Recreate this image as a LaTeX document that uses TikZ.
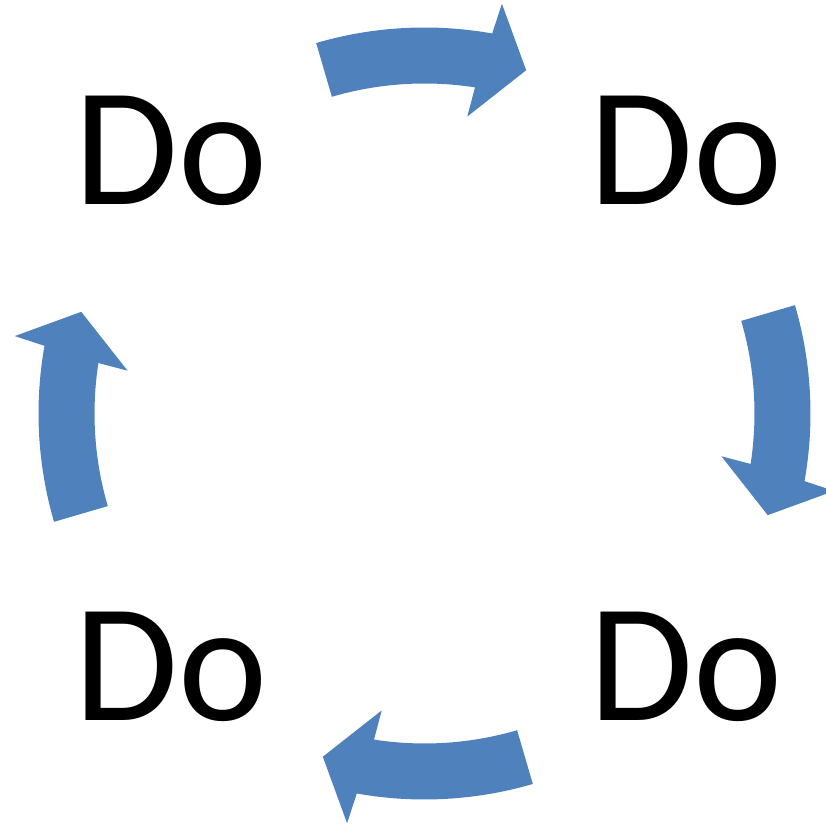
\documentclass[tikz,border=0pt]{standalone}
\usepackage{fontspec}
\setmainfont{Carlito}
\usetikzlibrary{calc}
\definecolor{cycleblue}{HTML}{4F81BD}

\begin{document}
\begin{tikzpicture}[
    x=0.5pt, y=0.5pt,
    dolabel/.style={font=\fontsize{84.5}{84.5}\selectfont, inner sep=0pt, text=black},
    cyclearrow/.style={fill=cycleblue, draw=none},
]

% ── Layout ──
\def\cx{424.5}  % cycle centre x
\def\cy{410.5}  % cycle centre y
\def\Ro{386}    % outer radius of band
\def\Ri{330}    % inner radius of band

\useasboundingbox (0,0) rectangle (826,824);
\coordinate (C) at (\cx,\cy);

% ── Helper: one curved block arrow, clockwise ──
% Args: rotation of the arrow about the centre
\newcommand{\drawcyclearrow}[1]{
    \begin{scope}[shift=(C), rotate=#1]
        \fill[cyclearrow] (106.3:\Ro) arc[start angle=106.3, end angle=79.9, radius=\Ro]
            -- (79.3:417) -- (73.5:358) -- (81.8:300)
            -- (81.2:\Ri) arc[start angle=81.2, end angle=106.3, radius=\Ri] -- cycle;
    \end{scope}
}

% ── Arrows ──
\foreach \rot in {0,-90,-180,-270} {
    \drawcyclearrow{\rot}
}

% ── Labels ──
\node[dolabel] (do-tl) at (171,673) {Do};
\node[dolabel] (do-tr) at (686,673) {Do};
\node[dolabel] (do-bl) at (171,157) {Do};
\node[dolabel] (do-br) at (686,157) {Do};

\end{tikzpicture}
\end{document}
